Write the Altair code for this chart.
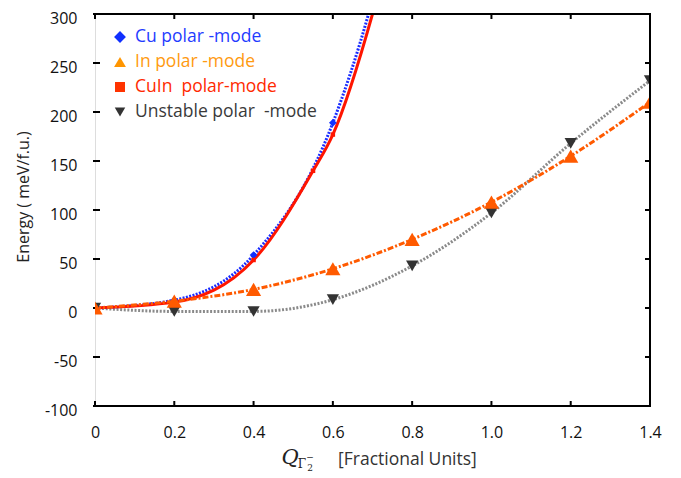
import altair as alt
import pandas as pd

# ---- data ----
x_ticks = [0, 0.2, 0.4, 0.6, 0.8, 1.0, 1.2, 1.4]
y_ticks = [-100, -50, 0, 50, 100, 150, 200, 250, 300]

cu_x = [0.0, 0.2, 0.4, 0.6]
cu_y = [0, 8, 54, 189]
cu_curve_x = [0.0, 0.2, 0.4, 0.6, 0.69, 0.72]
cu_curve_y = [0, 8, 54, 189, 300, 345]

cuin_x = [0.0, 0.2, 0.4, 0.55, 0.6]
cuin_y = [0, 6, 49, 140, 177]
cuin_curve_x = [0.0, 0.2, 0.4, 0.55, 0.6, 0.70, 0.73]
cuin_curve_y = [0, 6, 49, 140, 177, 300, 345]

in_x = [0.0, 0.2, 0.4, 0.6, 0.8, 1.0, 1.2, 1.4]
in_y = [0, 7, 19, 40, 70, 108, 155, 210]

un_x = [0.0, 0.2, 0.4, 0.6, 0.8, 1.0, 1.2, 1.4]
un_y = [0, -3.5, -3.5, 8.5, 43, 97, 168, 232]

NB = "\u00a0"
legend_labels = ["Cu polar" + NB + "-mode", "In polar" + NB + "-mode",
                 "CuIn" + NB + NB + "polar-mode", "Unstable polar" + NB + NB + "-mode"]
legend_text_colors = ["#1f3cff", "#ff9a10", "#ff2a00", "#3a3a3a"]
legend_marker_colors = ["#1030ff", "#ff9500", "#ff3300", "#333333"]
legend_shapes = ["diamond", "triangle-up", "square", "triangle-down"]
legend_sizes = [140, 140, 100, 110]

W, H = 555, 392
TOP = 6
FONT = "Open Sans"

sx = alt.Scale(domain=[0, 1.4], nice=False, zero=False)
sy = alt.Scale(domain=[-100, 300], nice=False, zero=False)

AX = alt.Axis(
    values=x_ticks, labelExpr="datum.value == 0 ? '0' : format(datum.value, '.1f')",
    ticks=False, domain=False, grid=False, labelFontSize=16, labelFont=FONT,
    labelColor="#111111", labelPadding=18, title=None, labelFlush=False)
AY = alt.Axis(
    values=y_ticks, labelExpr="datum.value < 0 ? '-' + abs(datum.value) : '' + datum.value",
    ticks=False, domain=False, grid=False, labelFontSize=16, labelFont=FONT,
    labelColor="#111111", labelPadding=18, labelOffset=4, title=None, labelFlush=False)


def X(field):
    return alt.X(field, scale=sx, axis=AX)


def Y(field):
    return alt.Y(field, scale=sy, axis=AY)


def line_layer(xs, ys, **kw):
    df = pd.DataFrame({"x": xs, "y": ys})
    return alt.Chart(df).mark_line(interpolate="monotone", clip=True, **kw).encode(
        x=X("x:Q"), y=Y("y:Q"))


def point_layer(xs, ys, **kw):
    df = pd.DataFrame({"x": xs, "y": ys})
    return alt.Chart(df).mark_point(filled=True, opacity=1, clip=True, **kw).encode(
        x=X("x:Q"), y=Y("y:Q"))


xt = pd.DataFrame({"x": x_ticks})
yt = pd.DataFrame({"y": y_ticks})

bottom_ticks = alt.Chart(xt).mark_rule(color="black", strokeWidth=2).encode(
    x=X("x:Q"), y=alt.value(H), y2=alt.value(H - 5))
top_ticks = alt.Chart(xt).mark_rule(color="black", strokeWidth=2).encode(
    x=X("x:Q"), y=alt.value(0), y2=alt.value(5))
left_ticks = alt.Chart(yt).mark_rule(color="black", strokeWidth=2).encode(
    y=Y("y:Q"), x=alt.value(-2), x2=alt.value(5))
right_ticks = alt.Chart(yt).mark_rule(color="black", strokeWidth=2).encode(
    y=Y("y:Q"), x=alt.value(W - 5), x2=alt.value(W))

one = pd.DataFrame({"a": [0]})
frame_top = alt.Chart(one).mark_rule(color="black", strokeWidth=2).encode(
    x=alt.value(-2), x2=alt.value(W + 1), y=alt.value(0))
frame_bottom = alt.Chart(one).mark_rule(color="black", strokeWidth=2).encode(
    x=alt.value(-2), x2=alt.value(W + 1), y=alt.value(H))
frame_right = alt.Chart(one).mark_rule(color="black", strokeWidth=2).encode(
    x=alt.value(W), y=alt.value(0), y2=alt.value(H))

lines = [
    line_layer(un_x, un_y, color="#8a8a8a", strokeWidth=3, strokeDash=[2, 1.6]),
    line_layer(cu_curve_x, cu_curve_y, color="#1a2cff", strokeWidth=3, strokeDash=[2, 1.4]),
    line_layer(cuin_curve_x, cuin_curve_y, color="#ff1500", strokeWidth=3),
    line_layer(in_x, in_y, color="#ff5a00", strokeWidth=3, strokeDash=[6, 2, 2, 2]),
]
points = [
    point_layer(un_x, un_y, shape="triangle-down", size=150, color="#333333"),
    point_layer(cu_x, cu_y, shape="diamond", size=60, color="#1030ff"),
    point_layer(cuin_x, cuin_y, shape="square", size=20, color="#ff1500"),
    point_layer(in_x, in_y, shape="triangle-up", size=230, color="#ff5a00"),
]

legend_layers = []
row_y = [37 - 8 - TOP, 62 - 8 - TOP, 87 - 8 - TOP, 112 - 8 - TOP]
for i, lab in enumerate(legend_labels):
    d = pd.DataFrame({"t": [lab]})
    legend_layers.append(
        alt.Chart(d).mark_point(filled=True, opacity=1, shape=legend_shapes[i],
                                size=legend_sizes[i], color=legend_marker_colors[i]).encode(
            x=alt.value(25), y=alt.value(row_y[i]))
    )
    legend_layers.append(
        alt.Chart(d).mark_text(align="left", baseline="middle", font=FONT, fontSize=17.5,
                               color=legend_text_colors[i]).encode(
            text="t:N", x=alt.value(40), y=alt.value(row_y[i]))
    )

off = 8 + TOP
title_layers = [
    alt.Chart(pd.DataFrame({"t": ["Energy ( meV/f.u.)"]})).mark_text(
        angle=270, align="center", baseline="middle", font=FONT, fontSize=16, color="#222222").encode(
        text="t:N", x=alt.value(-71), y=alt.value(197 - off)),
    alt.Chart(pd.DataFrame({"t": ["Q"]})).mark_text(
        align="center", baseline="middle", font="DejaVu Serif", fontStyle="italic", fontSize=21,
        color="#222222").encode(text="t:N", x=alt.value(195), y=alt.value(458 - off)),
    alt.Chart(pd.DataFrame({"t": ["Γ"]})).mark_text(
        align="center", baseline="middle", font="DejaVu Serif", fontSize=12,
        color="#222222").encode(text="t:N", x=alt.value(207), y=alt.value(464 - off)),
    alt.Chart(pd.DataFrame({"t": ["2"]})).mark_text(
        align="center", baseline="middle", font="DejaVu Serif", fontSize=9,
        color="#222222").encode(text="t:N", x=alt.value(215), y=alt.value(468 - off)),
    alt.Chart(pd.DataFrame({"t": ["−"]})).mark_text(
        align="center", baseline="middle", font="DejaVu Serif", fontSize=9,
        color="#222222").encode(text="t:N", x=alt.value(215), y=alt.value(457 - off)),
    alt.Chart(pd.DataFrame({"t": ["[Fractional Units]"]})).mark_text(
        align="left", baseline="middle", font=FONT, fontSize=17.5, color="#333333").encode(
        text="t:N", x=alt.value(243), y=alt.value(460 - off)),
]

chart = alt.layer(
    bottom_ticks, left_ticks, top_ticks, right_ticks,
    *lines, *points,
    frame_top, frame_bottom, frame_right,
    *legend_layers, *title_layers,
).properties(
    width=W, height=H,
    autosize=alt.AutoSizeParams(type="none"),
    padding={"left": 87, "top": TOP, "right": 20, "bottom": 68},
).configure_view(stroke=None).configure(background="white")

chart.save("out.html", embed_options={"renderer": "svg", "actions": False})
